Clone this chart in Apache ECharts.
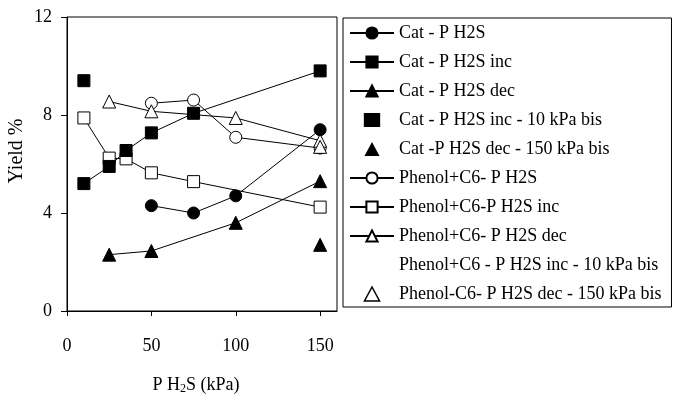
<!DOCTYPE html>
<html>
<head>
<meta charset="utf-8">
<script src="https://cdn.jsdelivr.net/npm/echarts@6/dist/echarts.min.js"></script>
<style>
html, body { margin: 0; padding: 0; background: #fff; }
#main { width: 674px; height: 406px; }
</style>
</head>
<body>
<div id="main"></div>
<script>
// data: [P H2S (kPa), yield %]
var catP = [[50, 4.3], [75, 4.0], [100, 4.7], [150, 7.4]];
var catInc = [[10, 5.2], [25, 5.9], [35, 6.55], [50, 7.27], [75, 8.07], [150, 9.8]];
var catDec = [[25, 2.3], [50, 2.45], [100, 3.6], [150, 5.3]];
var catInc10 = [[10, 9.4]];
var catDec150 = [[150, 2.7]];
var phP = [[50, 8.48], [75, 8.61], [100, 7.09], [150, 6.65]];
var phInc = [[10, 7.88], [25, 6.24], [35, 6.21], [50, 5.64], [75, 5.28], [150, 4.24]];
var phDec = [[25, 8.55], [50, 8.15], [100, 7.88], [150, 6.95]];
var phInc10 = [];
var phDec150 = [[150, 6.7]];

var xTicks = [0, 50, 100, 150];
var yTicks = [0, 4, 8, 12];

var font = 'Liberation Serif';
var myChart = echarts.init(document.getElementById('main'));

function lineSeries(name, data, symbol, filled) {
    return {
        name: name,
        type: 'line',
        data: data,
        symbol: symbol,
        symbolSize: symbol === 'triangle' ? 13 : 12,
        showAllSymbol: true,
        lineStyle: { color: '#000', width: 1 },
        itemStyle: { color: filled ? '#000' : '#fff', borderColor: '#000', borderWidth: 1, opacity: 1 },
        emphasis: { disabled: true },
        z: filled ? 3 : 2
    };
}

function pointSeries(name, data, symbol, filled) {
    return {
        name: name,
        type: 'scatter',
        data: data,
        symbol: symbol,
        symbolSize: symbol === 'triangle' ? 13 : 12,
        symbolKeepAspect: true,
        itemStyle: { color: filled ? '#000' : '#fff', borderColor: '#000', borderWidth: 1, opacity: 1 },
        emphasis: { disabled: true },
        z: 4
    };
}

// legend entries for single points: keep the marker small, no line
function pointIcon(name, symbol, filled) {
    var path = symbol === 'rect'
        ? 'path://M15,1L29,1L29,13L15,13Z'
        : 'path://M22,0L29,13L15,13Z';
    return {
        name: name,
        icon: path,
        itemStyle: { color: filled ? '#000' : '#fff', borderColor: '#000', borderWidth: filled ? 0 : 1.5, opacity: 1 }
    };
}

var option = {
    animation: false,
    backgroundColor: '#fff',
    grid: {
        left: 67, right: 337, top: 17, bottom: 95,
        show: true, borderColor: '#000', borderWidth: 1
    },
    legend: {
        orient: 'vertical',
        left: 343,
        top: 18,
        padding: [6, 10, 4, 6],
        itemWidth: 44,
        itemHeight: 14,
        itemGap: 11,
        borderColor: '#000',
        borderWidth: 1,
        selectedMode: false,
        textStyle: { fontFamily: font, fontSize: 18, lineHeight: 18, color: '#000' },
        data: [
            'Cat - P H2S', 'Cat - P H2S inc', 'Cat - P H2S dec',
            pointIcon('Cat - P H2S inc - 10 kPa bis', 'rect', true),
            pointIcon('Cat -P H2S dec - 150 kPa bis', 'triangle', true),
            'Phenol+C6- P H2S', 'Phenol+C6-P H2S inc', 'Phenol+C6- P H2S dec',
            { name: 'Phenol+C6 - P H2S inc - 10 kPa bis', icon: 'rect', itemStyle: { opacity: 0 } },
            pointIcon('Phenol-C6- P H2S dec - 150 kPa bis', 'triangle', false)
        ]
    },
    xAxis: {
        type: 'value',
        min: 0,
        max: 160,
        interval: 50,
        name: 'P H{sub|2}S (kPa)',
        nameLocation: 'middle',
        nameGap: 64,
        nameTextStyle: {
            fontFamily: font, fontSize: 18, color: '#000', padding: [0, 12, 0, 0],
            rich: { sub: { fontFamily: font, fontSize: 12, color: '#000', verticalAlign: 'bottom', padding: [8, 0, 0, 0] } }
        },
        axisLine: { lineStyle: { color: '#000', width: 1 } },
        axisTick: { length: 5, lineStyle: { color: '#000' } },
        axisLabel: {
            fontFamily: font, fontSize: 18, color: '#000', margin: 26, showMaxLabel: false,
            formatter: function (v) { return xTicks.indexOf(v) >= 0 ? v : ''; }
        },
        splitLine: { show: false }
    },
    yAxis: {
        type: 'value',
        min: 0,
        max: 12,
        interval: 4,
        name: 'Yield %',
        nameLocation: 'middle',
        nameGap: 40,
        nameTextStyle: { fontFamily: font, fontSize: 20, color: '#000', padding: [0, 0, 0, 26] },
        axisLine: { lineStyle: { color: '#000', width: 1 } },
        axisTick: { length: 6, lineStyle: { color: '#000' } },
        axisLabel: {
            fontFamily: font, fontSize: 18, color: '#000', margin: 15,
            formatter: function (v) { return yTicks.indexOf(v) >= 0 ? v : ''; }
        },
        splitLine: { show: false }
    },
    series: [
        lineSeries('Cat - P H2S', catP, 'circle', true),
        lineSeries('Cat - P H2S inc', catInc, 'rect', true),
        lineSeries('Cat - P H2S dec', catDec, 'triangle', true),
        pointSeries('Cat - P H2S inc - 10 kPa bis', catInc10, 'rect', true),
        pointSeries('Cat -P H2S dec - 150 kPa bis', catDec150, 'triangle', true),
        lineSeries('Phenol+C6- P H2S', phP, 'circle', false),
        lineSeries('Phenol+C6-P H2S inc', phInc, 'rect', false),
        lineSeries('Phenol+C6- P H2S dec', phDec, 'triangle', false),
        pointSeries('Phenol+C6 - P H2S inc - 10 kPa bis', phInc10, 'rect', false),
        pointSeries('Phenol-C6- P H2S dec - 150 kPa bis', phDec150, 'triangle', false)
    ]
};

myChart.setOption(option);
</script>
</body>
</html>
